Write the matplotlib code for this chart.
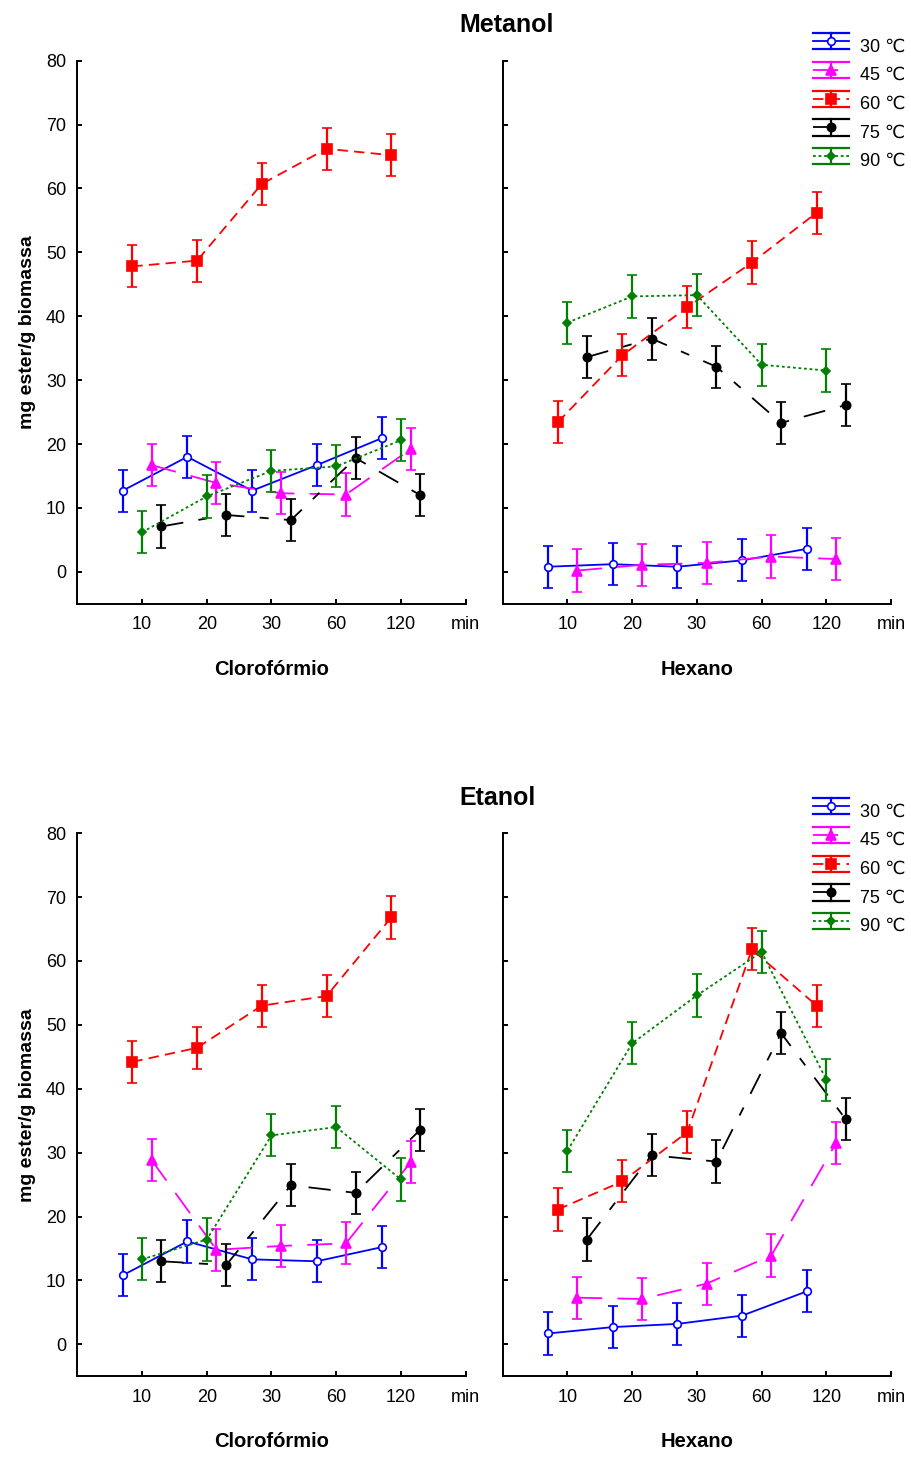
import numpy as np
import matplotlib
matplotlib.use('Agg')
import matplotlib.pyplot as plt
from matplotlib.lines import Line2D

plt.rcParams['font.family'] = ['Liberation Sans', 'DejaVu Sans']
plt.rcParams['lines.scale_dashes'] = False

# categories (reaction time, min) and series labels
times = ['10', '20', '30', '60', '120']
temps = ['30 \u2103', '45 \u2103', '60 \u2103', '75 \u2103', '90 \u2103']

# mg ester / g biomassa
# Metanol - Clorofórmio
met_clo_30 = [12.7, 18.0, 12.7, 16.7, 20.9]
met_clo_45 = [16.7, 13.9, 12.3, 12.1, 19.2]
met_clo_60 = [47.8, 48.7, 60.7, 66.2, 65.2]
met_clo_75 = [7.1, 8.9, 8.1, 17.8, 12.0]
met_clo_90 = [6.2, 11.8, 15.8, 16.5, 20.6]
# Metanol - Hexano
met_hex_30 = [0.8, 1.2, 0.8, 1.8, 3.6]
met_hex_45 = [0.2, 1.1, 1.4, 2.4, 2.0]
met_hex_60 = [23.4, 33.9, 41.4, 48.4, 56.2]
met_hex_75 = [33.6, 36.5, 32.1, 23.3, 26.1]
met_hex_90 = [39.0, 43.1, 43.3, 32.4, 31.5]
# Etanol - Clorofórmio
eta_clo_30 = [10.8, 16.1, 13.3, 13.0, 15.2]
eta_clo_45 = [28.8, 14.8, 15.4, 15.8, 28.5]
eta_clo_60 = [44.2, 46.4, 53.0, 54.5, 66.8]
eta_clo_75 = [13.0, 12.4, 24.9, 23.7, 33.6]
eta_clo_90 = [13.3, 16.4, 32.7, 34.0, 25.8]
# Etanol - Hexano
eta_hex_30 = [1.7, 2.7, 3.2, 4.5, 8.3]
eta_hex_45 = [7.3, 7.1, 9.5, 13.9, 31.5]
eta_hex_60 = [21.1, 25.5, 33.2, 61.8, 53.0]
eta_hex_75 = [16.4, 29.6, 28.6, 48.7, 35.2]
eta_hex_90 = [30.3, 47.1, 54.6, 61.4, 41.4]

err = 3.3  # error bar half length (same for all points)

panels = [
    ('Clorofórmio', [met_clo_30, met_clo_45, met_clo_60, met_clo_75, met_clo_90]),
    ('Hexano', [met_hex_30, met_hex_45, met_hex_60, met_hex_75, met_hex_90]),
    ('Clorofórmio', [eta_clo_30, eta_clo_45, eta_clo_60, eta_clo_75, eta_clo_90]),
    ('Hexano', [eta_hex_30, eta_hex_45, eta_hex_60, eta_hex_75, eta_hex_90]),
]

# series styles
colors = ['#0000ff', '#ff00ff', '#ff0000', '#000000', '#008000']
markers = ['o', '^', 's', 'o', 'D']
msizes = [5.5, 6.5, 6.5, 6, 4]
mfaces = ['white', '#ff00ff', '#ff0000', '#000000', '#008000']
dashes = [None, (18, 11), (7.5, 4.5), (16, 11, 6.5, 11), (2, 2)]
offsets = [-0.3, 0.15, -0.15, 0.3, 0.0]


class ErrHandler(object):
    # legend symbol: line + marker with an error bar and wide caps
    def __init__(self, idx):
        self.idx = idx

    def legend_artist(self, legend, orig_handle, fontsize, handlebox):
        j = self.idx[orig_handle]
        x0, y0 = handlebox.xdescent, handlebox.ydescent
        w, h = handlebox.width, handlebox.height
        tr = handlebox.get_transform()
        c = colors[j]
        arts = [
            Line2D([x0, x0 + w], [y0 + h, y0 + h], color=c, lw=1.6, transform=tr),
            Line2D([x0, x0 + w], [y0, y0], color=c, lw=1.6, transform=tr),
            Line2D([x0 + w / 2, x0 + w / 2], [y0, y0 + h], color=c, lw=1.6, transform=tr),
        ]
        mid = Line2D([x0, x0 + w], [y0 + h / 2] * 2, color=c, lw=1.3, transform=tr)
        if dashes[j] is not None:
            mid.set_dashes(dashes[j])
        dot = Line2D([x0 + w / 2], [y0 + h / 2], ls='none', marker=markers[j],
                     ms=msizes[j], mfc=mfaces[j], mec=c, mew=1.2, transform=tr)
        arts += [mid, dot]
        for a in arts:
            handlebox.add_artist(a)
        return dot


fig = plt.figure(figsize=(9.12, 14.57), dpi=100)
W, H = 912.0, 1457.0
boxes = [
    (77.3, 603.8), (502.7, 603.8),
    (77.3, 1376.3), (502.7, 1376.3),
]
x = np.arange(1, len(times) + 1)

for i, (solvent, series) in enumerate(panels):
    left, bottom = boxes[i]
    ax = fig.add_axes([left / W, 1 - bottom / H, 388.4 / W, 543.2 / H])
    handles = []
    for j, vals in enumerate(series):
        ln = ax.errorbar(x + offsets[j], vals, yerr=err, color=colors[j],
                         marker=markers[j], ms=msizes[j], mfc=mfaces[j],
                         mec=colors[j], mew=1.2, lw=1.3, elinewidth=1.6,
                         capsize=3.5, capthick=1.6, zorder=3 + j)
        line = ln[0]
        if dashes[j] is not None:
            line.set_dashes(dashes[j])
        handles.append(line)

    ax.set_xlim(0, 6)
    ax.set_ylim(-5, 80)
    ax.set_xticks(list(x) + [6])
    ax.set_xticklabels(times + ['min'])
    ax.set_yticks(np.arange(0, 81, 10))
    for s in ['top', 'right']:
        ax.spines[s].set_visible(False)
    for s in ['left', 'bottom']:
        ax.spines[s].set_linewidth(1.4)
    ax.tick_params(direction='in', length=3.8, width=1.4, labelsize=13)
    ax.tick_params(axis='x', pad=9)
    ax.tick_params(axis='y', pad=8)
    ax.set_xlabel(solvent, fontsize=14.5, fontweight='bold', labelpad=19)
    if i % 2 == 0:
        ax.set_ylabel('mg ester/g biomassa', fontsize=14, fontweight='bold', labelpad=7)
    else:
        ax.tick_params(axis='y', labelleft=False)
        top = 1 - 37 / H if i == 1 else 1 - 802 / H
        h = ErrHandler({hd: k for k, hd in enumerate(handles)})
        fig.legend(handles, temps, handler_map={hd: h for hd in handles},
                   loc='upper left', bbox_to_anchor=(813 / W, top),
                   frameon=False, fontsize=13, handlelength=2.0,
                   handleheight=1.0, labelspacing=0.58, handletextpad=0.6,
                   borderpad=0, borderaxespad=0)

fig.text(507 / W, 1 - 25 / H, 'Metanol', ha='center', va='center',
         fontsize=18, fontweight='bold')
fig.text(498 / W, 1 - 798 / H, 'Etanol', ha='center', va='center',
         fontsize=18, fontweight='bold')

fig.savefig('out.png', dpi=100)
